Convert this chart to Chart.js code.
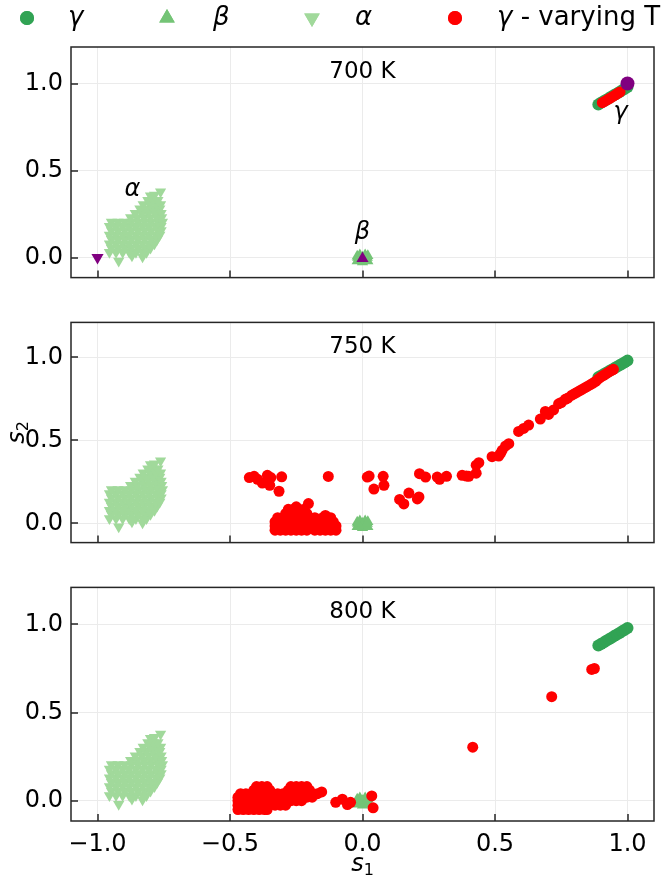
<!DOCTYPE html>
<html>
<head>
<meta charset="utf-8">
<script src="https://cdn.jsdelivr.net/npm/chart.js@4.4.1/dist/chart.umd.min.js"></script>
<style>
  body { margin: 0; background: #fff; }
  #wrap { position: relative; width: 666px; height: 878px; }
  canvas { position: absolute; left: 0; }
</style>
</head>
<body>
<div id="wrap">
  <canvas id="c700" width="666" height="300" style="top:0px"></canvas>
  <canvas id="c750" width="666" height="265" style="top:300px"></canvas>
  <canvas id="c800" width="666" height="313" style="top:565px"></canvas>
</div>
<script>
// ---- data ----
const panelTitles = ["700 K", "750 K", "800 K"];
const xTicks = [-1.0, -0.5, 0.0, 0.5, 1.0];
const yTicks = [0.0, 0.5, 1.0];
const seriesNames = ["γ", "β", "α", "γ - varying T"];

// gamma phase, same in every panel
const gammaPts = [[0.89,0.88],[0.90,0.889],[0.91,0.898],[0.92,0.907],[0.93,0.916],[0.94,0.925],
  [0.95,0.934],[0.96,0.943],[0.97,0.952],[0.98,0.961],[0.99,0.97],[1.0,0.98]];

// beta phase, small cluster at the origin
const betaPts = [[-0.02,-0.02],[0.0,-0.025],[0.02,-0.02],[-0.018,0.0],[0.0,0.0],[0.018,0.0],
  [-0.01,0.015],[0.01,0.015],[0.02,0.01],[-0.02,0.008]];

// alpha phase cloud, rows of [s2, [s1 ...]]
const alphaRows = [
  [0.03,  [-0.955,-0.93,-0.905,-0.88,-0.855,-0.83,-0.815]],
  [0.055, [-0.9475,-0.9225,-0.8975,-0.8725,-0.8475,-0.8225,-0.80]],
  [0.08,  [-0.955,-0.93,-0.905,-0.88,-0.855,-0.83,-0.805,-0.785]],
  [0.105, [-0.9475,-0.9225,-0.8975,-0.8725,-0.8475,-0.8225,-0.7975,-0.775]],
  [0.13,  [-0.955,-0.93,-0.905,-0.88,-0.855,-0.83,-0.805,-0.78,-0.765]],
  [0.155, [-0.9475,-0.9225,-0.8975,-0.8725,-0.8475,-0.8225,-0.7975,-0.7725,-0.76]],
  [0.18,  [-0.955,-0.93,-0.905,-0.88,-0.855,-0.83,-0.805,-0.78,-0.76]],
  [0.205, [-0.9475,-0.9225,-0.8975,-0.8725,-0.8475,-0.8225,-0.7975,-0.7725,-0.755]],
  [0.23,  [-0.875,-0.85,-0.825,-0.80,-0.775,-0.758]],
  [0.255, [-0.8575,-0.8325,-0.8075,-0.7825,-0.76]],
  [0.28,  [-0.84,-0.815,-0.79,-0.765]],
  [0.305, [-0.8275,-0.8025,-0.7775,-0.762]],
  [0.33,  [-0.81,-0.79,-0.772]]
];
const alphaExtra = [[-0.8,0.355],[-0.785,0.36],[-0.762,0.378],[-0.92,-0.02],[-0.87,0.01],[-0.83,0.005]];

// purple reference points (700 K only)
const purple700 = [[-1.0,0.0],[0.0,-0.005],[1.0,1.0]];

// gamma - varying T
const red700 = [[0.905,0.89],[0.915,0.899],[0.925,0.908],[0.935,0.917],[0.945,0.926],
  [0.955,0.935],[0.965,0.945],[0.972,0.952]];

const red750Rows = [
  [-0.04,  [-0.33,-0.31,-0.29,-0.27,-0.25,-0.23,-0.21,-0.18,-0.16,-0.14,-0.12,-0.10]],
  [-0.015, [-0.33,-0.31,-0.29,-0.27,-0.25,-0.23,-0.21,-0.19,-0.17,-0.15,-0.13,-0.11,-0.10]],
  [0.01,   [-0.33,-0.31,-0.29,-0.27,-0.25,-0.23,-0.21,-0.19,-0.17,-0.15,-0.13,-0.11]],
  [0.035,  [-0.32,-0.30,-0.28,-0.26,-0.24,-0.22,-0.18,-0.15,-0.12]],
  [0.06,   [-0.29,-0.27,-0.25,-0.23,-0.21]],
  [0.085,  [-0.28,-0.26,-0.24,-0.22]]
];
const red750Pts = [[-0.204,0.12],[-0.25,0.1],[-0.14,0.048],
  [-0.427,0.276],[-0.409,0.284],[-0.396,0.266],[-0.378,0.243],[-0.359,0.29],[-0.346,0.276],
  [-0.35,0.23],[-0.305,0.281],[-0.315,0.194],[-0.129,0.283],
  [0.018,0.279],[0.025,0.285],[0.078,0.284],[0.043,0.207],[0.081,0.23],
  [0.14,0.145],[0.156,0.118],[0.175,0.183],[0.207,0.148],[0.213,0.16],
  [0.215,0.3],[0.238,0.279],[0.282,0.279],[0.291,0.266],[0.317,0.284],
  [0.376,0.29],[0.392,0.285],[0.401,0.284],[0.429,0.303],[0.429,0.351],[0.439,0.366],
  [0.489,0.402],[0.514,0.406],[0.52,0.42],[0.527,0.44],[0.54,0.467],[0.552,0.48],
  [0.589,0.554],[0.608,0.572],[0.627,0.592],[0.671,0.628],[0.69,0.674],[0.702,0.656],[0.721,0.683],
  [0.74,0.72],[0.75,0.728],[0.765,0.747],[0.775,0.755],[0.79,0.772],[0.80,0.781],[0.81,0.79],
  [0.82,0.799],[0.83,0.808],[0.84,0.817],[0.85,0.826],[0.86,0.835],[0.87,0.845],[0.88,0.855],
  [0.89,0.87],[0.90,0.882],[0.91,0.892],[0.92,0.902],[0.93,0.912],[0.94,0.922],[0.947,0.928]];

const red800Rows = [
  [-0.05, [-0.47,-0.45,-0.43,-0.41,-0.39,-0.37,-0.36]],
  [-0.025,[-0.47,-0.45,-0.43,-0.41,-0.39,-0.37,-0.35,-0.33,-0.31,-0.29]],
  [0.0,   [-0.47,-0.45,-0.43,-0.41,-0.39,-0.37,-0.35,-0.33,-0.31,-0.29,-0.27,-0.25,-0.23]],
  [0.02,  [-0.47,-0.45,-0.43,-0.41,-0.39,-0.37,-0.35,-0.33,-0.31,-0.29,-0.27,-0.25,-0.23,-0.21,-0.19]],
  [0.04,  [-0.46,-0.44,-0.42,-0.40,-0.38,-0.36,-0.32,-0.30,-0.27,-0.25,-0.23,-0.21,-0.19,-0.17]],
  [0.06,  [-0.41,-0.39,-0.37,-0.35,-0.28,-0.26,-0.24,-0.22,-0.20]],
  [0.08,  [-0.40,-0.38,-0.36,-0.27,-0.25,-0.23,-0.21]]
];
const red800Pts = [[-0.154,0.05],[-0.101,-0.009],[-0.076,0.009],[-0.057,-0.022],[-0.045,-0.009],
  [0.035,0.027],[0.04,-0.04],[0.416,0.304],[0.714,0.59],[0.865,0.745],[0.875,0.75]];

// ---- styling ----
const FONT = '"DejaVu Sans", sans-serif';
const C_GAMMA = "#31a354", C_BETA = "#74c476", C_ALPHA = "#a1d99b", C_RED = "#ff0000", C_PURPLE = "#800080";
const C_AXIS = "#262626";

const toPts = arr => arr.map(([x, y]) => ({ x, y }));
const rowsToPts = rows => rows.flatMap(([y, xs]) => xs.map(x => ({ x, y })));

// frame, inward ticks, panel title, annotations, legend and axis labels
const decor = {
  id: "decor",
  afterDraw(chart, args, o) {
    const { ctx, chartArea: a, scales: { x, y } } = chart;
    ctx.save();
    ctx.strokeStyle = C_AXIS;
    ctx.lineWidth = 1.5;
    ctx.beginPath();
    xTicks.forEach(v => {
      const px = Math.round(x.getPixelForValue(v));
      ctx.moveTo(px, a.bottom); ctx.lineTo(px, a.bottom - 7);
    });
    yTicks.forEach(v => {
      const py = Math.round(y.getPixelForValue(v));
      ctx.moveTo(a.left, py); ctx.lineTo(a.left + 7, py);
    });
    ctx.stroke();
    ctx.strokeRect(a.left, a.top, a.right - a.left, a.bottom - a.top);

    ctx.fillStyle = "#000";
    ctx.textAlign = "center";
    ctx.textBaseline = "middle";
    ctx.font = `23px ${FONT}`;
    ctx.fillText(o.title, x.getPixelForValue(0), a.top + 25);

    ctx.font = `italic 24px ${FONT}`;
    (o.notes || []).forEach(n => ctx.fillText(n.text, x.getPixelForValue(n.x), y.getPixelForValue(n.y)));

    if (o.legend) {
      const ly = 18;
      o.legend.forEach((it, i) => {
        ctx.fillStyle = it.color;
        ctx.beginPath();
        Chart.helpers.drawPoint(ctx, { pointStyle: it.style, rotation: it.rot, radius: it.r, borderWidth: 0 }, it.mx, ly);
        ctx.fill();
        const name = seriesNames[i];
        ctx.fillStyle = "#000";
        ctx.textAlign = "left";
        ctx.font = `italic 26px ${FONT}`;
        ctx.fillText(name[0], it.tx, ly);
        if (name.length > 1) {
          const w = ctx.measureText(name[0]).width;
          ctx.font = `26px ${FONT}`;
          ctx.fillText(name.slice(1), it.tx + w, ly);
        }
      });
    }

    if (o.xLabel) {
      const cx = x.getPixelForValue(0), cy = a.bottom + 44;
      ctx.font = `italic 24px ${FONT}`;
      const w1 = ctx.measureText("s").width;
      ctx.font = `16px ${FONT}`;
      const w2 = ctx.measureText("1").width;
      ctx.textAlign = "left";
      ctx.font = `italic 24px ${FONT}`;
      ctx.fillText("s", cx - (w1 + w2) / 2, cy);
      ctx.font = `16px ${FONT}`;
      ctx.fillText("1", cx - (w1 + w2) / 2 + w1, cy + 6);
    }
    if (o.yLabel) {
      ctx.translate(18, (a.top + a.bottom) / 2);
      ctx.rotate(-Math.PI / 2);
      ctx.font = `italic 24px ${FONT}`;
      const w1 = ctx.measureText("s").width;
      ctx.font = `16px ${FONT}`;
      const w2 = ctx.measureText("2").width;
      ctx.textAlign = "left";
      ctx.font = `italic 24px ${FONT}`;
      ctx.fillText("s", -(w1 + w2) / 2, 0);
      ctx.font = `16px ${FONT}`;
      ctx.fillText("2", -(w1 + w2) / 2 + w1, 6);
    }
    ctx.restore();
  }
};

const fmt = v => (v < 0 ? "\u2212" : "") + Math.abs(v).toFixed(1);

function buildDatasets(red, purple) {
  const ds = [
    { label: seriesNames[0], data: toPts(gammaPts), pointStyle: "circle", pointRadius: 6,
      pointBackgroundColor: C_GAMMA, order: 5 },
    { label: seriesNames[1], data: toPts(betaPts), pointStyle: "triangle", pointRadius: 6.5,
      pointBackgroundColor: C_BETA, order: 4 },
    { label: seriesNames[2], data: rowsToPts(alphaRows).concat(toPts(alphaExtra)), pointStyle: "triangle",
      pointRotation: 180, pointRadius: 6.5, pointBackgroundColor: C_ALPHA, order: 3 },
    { label: seriesNames[3], data: red, pointStyle: "circle", pointRadius: 5.5,
      pointBackgroundColor: C_RED, order: 2 }
  ];
  if (purple) {
    ds.push({ label: "ref", data: toPts(purple), pointStyle: ["triangle", "triangle", "circle"],
      pointRotation: [180, 0, 0], pointRadius: 7, pointBackgroundColor: C_PURPLE, order: 1 });
  }
  ds.forEach(d => { d.pointBorderWidth = 0; d.pointHoverRadius = d.pointRadius; d.showLine = false; });
  return ds;
}

function renderPanel(id, datasets, deco, pad, xHeight, showX) {
  return new Chart(document.getElementById(id), {
    type: "scatter",
    data: { datasets },
    plugins: [decor],
    options: {
      responsive: false,
      animation: false,
      events: [],
      layout: { padding: { left: 0, right: 12, top: pad.top, bottom: pad.bottom } },
      plugins: { legend: { display: false }, tooltip: { enabled: false }, decor: deco },
      scales: {
        x: {
          type: "linear", min: -1.1, max: 1.1,
          border: { display: false },
          grid: { color: "#ebebeb", lineWidth: 1, drawTicks: false },
          ticks: { display: showX, stepSize: 0.5, includeBounds: false, maxRotation: 0, autoSkip: false,
                   padding: 9, color: "#000", font: { family: FONT, size: 24 }, callback: fmt },
          afterFit: s => { s.height = xHeight; }
        },
        y: {
          type: "linear", min: -0.115, max: 1.21,
          border: { display: false },
          grid: { color: "#ebebeb", lineWidth: 1, drawTicks: false },
          ticks: { stepSize: 0.5, includeBounds: false, padding: 8, color: "#000",
                   font: { family: FONT, size: 24 }, callback: fmt },
          afterFit: s => { s.width = 71; }
        }
      }
    }
  });
}

const legendItems = [
  { style: "circle", rot: 0, r: 7, color: C_GAMMA, mx: 27, tx: 68 },
  { style: "triangle", rot: 0, r: 9, color: C_BETA, mx: 167, tx: 213 },
  { style: "triangle", rot: 180, r: 9, color: C_ALPHA, mx: 312, tx: 355 },
  { style: "circle", rot: 0, r: 7, color: C_RED, mx: 455, tx: 497 }
];

renderPanel("c700", buildDatasets(toPts(red700), purple700), {
  title: panelTitles[0], legend: legendItems,
  notes: [{ text: "α", x: -0.868, y: 0.39 }, { text: "β", x: 0.0, y: 0.14 }, { text: "γ", x: 0.974, y: 0.83 }]
}, { top: 47, bottom: 10 }, 0, false);

renderPanel("c750", buildDatasets(rowsToPts(red750Rows).concat(toPts(red750Pts))), {
  title: panelTitles[1], yLabel: true
}, { top: 12, bottom: 10 }, 0, false);

renderPanel("c800", buildDatasets(rowsToPts(red800Rows).concat(toPts(red800Pts))), {
  title: panelTitles[2], xLabel: true
}, { top: 12, bottom: 0 }, 57, true);
</script>
</body>
</html>
